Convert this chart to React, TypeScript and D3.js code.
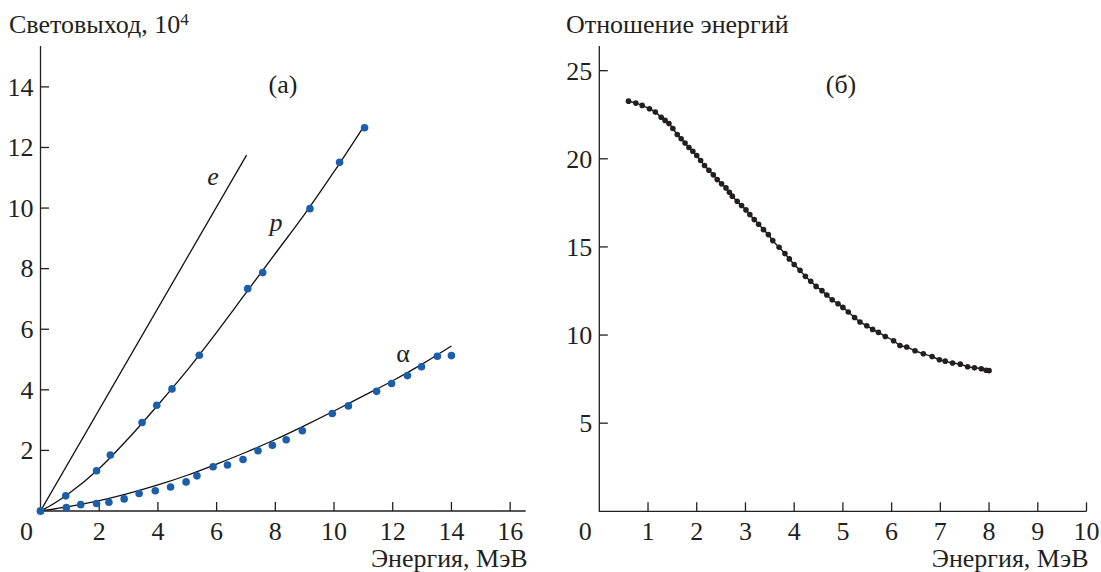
import React from "react";
import * as d3 from "d3";

// Panel (а): light yield vs particle energy
const protonPoints: [number, number][] = [
  [0, 0], [0.86, 0.5], [1.91, 1.33], [2.38, 1.85], [3.46, 2.92], [3.96, 3.49],
  [4.48, 4.03], [5.41, 5.14], [7.06, 7.34], [7.57, 7.87], [9.18, 9.98],
  [10.19, 11.51], [11.04, 12.65],
];
const alphaPoints: [number, number][] = [
  [0, 0], [0.88, 0.11], [1.37, 0.21], [1.91, 0.25], [2.33, 0.29], [2.85, 0.4],
  [3.36, 0.58], [3.91, 0.67], [4.43, 0.79], [4.96, 0.96], [5.33, 1.16],
  [5.88, 1.46], [6.37, 1.52], [6.9, 1.7], [7.41, 1.99], [7.9, 2.17],
  [8.37, 2.35], [8.92, 2.65], [9.94, 3.22], [10.49, 3.47], [11.45, 3.95],
  [11.96, 4.21], [12.5, 4.47], [12.98, 4.76], [13.52, 5.11], [14.0, 5.13],
];
const electronCurve: [number, number][] = [[0, 0], [7.02, 11.75]];
const protonCurve: [number, number][] = [
  [0, 0], [0.5, 0.27], [1, 0.6], [2, 1.4], [3, 2.4], [4, 3.5], [5, 4.65],
  [6, 5.9], [7, 7.2], [8, 8.5], [9, 9.8], [10, 11.2], [10.95, 12.6],
];
const alphaCurve: [number, number][] = [
  [0, 0], [1, 0.15], [2, 0.34], [3, 0.58], [4, 0.86], [5, 1.18], [6, 1.55],
  [7, 1.94], [8, 2.36], [9, 2.82], [10, 3.3], [11, 3.8], [12, 4.3],
  [13, 4.85], [14, 5.45],
];
const leftXTicks = [2, 4, 6, 8, 10, 12, 14, 16];
const leftYTicks = [2, 4, 6, 8, 10, 12, 14];

// Panel (б): energy ratio vs energy
const ratioPoints: [number, number][] = [
  [0.6, 23.27], [0.75, 23.16], [0.88, 23.03], [1.03, 22.84], [1.15, 22.65],
  [1.27, 22.36], [1.35, 22.18], [1.43, 22.0], [1.51, 21.72], [1.6, 21.38],
  [1.68, 21.14], [1.76, 20.89], [1.84, 20.64], [1.92, 20.43], [2.0, 20.19],
  [2.08, 19.9], [2.16, 19.62], [2.25, 19.35], [2.34, 19.09], [2.42, 18.82],
  [2.51, 18.58], [2.6, 18.35], [2.67, 18.1], [2.73, 17.88], [2.83, 17.59],
  [2.92, 17.35], [3.01, 17.1], [3.09, 16.84], [3.18, 16.55], [3.27, 16.29],
  [3.37, 15.98], [3.47, 15.7], [3.56, 15.36], [3.69, 14.98], [3.81, 14.62],
  [3.9, 14.32], [4.0, 14.0], [4.12, 13.67], [4.23, 13.33], [4.34, 13.05],
  [4.45, 12.76], [4.57, 12.52], [4.67, 12.27], [4.78, 12.0], [4.9, 11.78],
  [5.0, 11.57], [5.11, 11.31], [5.24, 11.0], [5.35, 10.74], [5.49, 10.53],
  [5.61, 10.32], [5.73, 10.15], [5.87, 9.92], [6.04, 9.68], [6.17, 9.41],
  [6.31, 9.32], [6.48, 9.11], [6.65, 8.94], [6.83, 8.78], [6.98, 8.6],
  [7.1, 8.52], [7.25, 8.41], [7.41, 8.35], [7.56, 8.2], [7.7, 8.14],
  [7.84, 8.09], [7.94, 8.0], [8.0, 7.98],
];
const rightXTicks = [1, 2, 3, 4, 5, 6, 7, 8, 9, 10];
const rightYTicks = [5, 10, 15, 20, 25];

const INK = "#231f20";
const BLUE = "#1b5fab";
const FONT = "'Liberation Serif'";
const FS = 26;

const xL = d3.scaleLinear().domain([0, 16.53]).range([40.5, 525.7]);
const yL = d3.scaleLinear().domain([0, 15.35]).range([511, 46]);
const xR = d3.scaleLinear().domain([0, 10]).range([599.3, 1086.5]);
const yR = d3.scaleLinear().domain([0, 26.4]).range([511.3, 46]);

type Scale = d3.ScaleLinear<number, number>;

function Axes({ x, y, xTicks, yTicks, xMax, yMax }: {
  x: Scale; y: Scale; xTicks: number[]; yTicks: number[]; xMax: number; yMax: number;
}) {
  const x0 = x(0);
  const y0 = y(0);
  return (
    <g stroke={INK} strokeWidth={1.3} fill="none">
      <path d={`M${x0},${y(yMax)}V${y0}H${x(xMax)}`} />
      {xTicks.map((t) => (
        <line key={"x" + t} x1={x(t)} x2={x(t)} y1={y0} y2={y0 - 9} />
      ))}
      {yTicks.map((t) => (
        <line key={"y" + t} x1={x0} x2={x0 + 8.5} y1={y(t)} y2={y(t)} />
      ))}
    </g>
  );
}

function TickLabels({ x, y, xTicks, yTicks }: {
  x: Scale; y: Scale; xTicks: number[]; yTicks: number[];
}) {
  const x0 = x(0);
  return (
    <g fill={INK} fontFamily={FONT} fontSize={FS}>
      <text x={x0 - 14} y={540} textAnchor="middle">0</text>
      {xTicks.map((t) => (
        <text key={"x" + t} x={x(t)} y={540} textAnchor="middle">{t}</text>
      ))}
      {yTicks.map((t) => (
        <text key={"y" + t} x={x0 - 7} y={y(t)} dy="0.34em" textAnchor="end">{t}</text>
      ))}
      <text x={x.range()[1] + 2} y={567} textAnchor="end">Энергия, МэВ</text>
    </g>
  );
}

export default function App() {
  const lineL = d3.line<[number, number]>().x((d) => xL(d[0])).y((d) => yL(d[1])).curve(d3.curveMonotoneX);
  const lineR = d3.line<[number, number]>().x((d) => xR(d[0])).y((d) => yR(d[1])).curve(d3.curveMonotoneX);
  return (
    <svg
      width={1101}
      height={572}
      style={{ position: "absolute", left: 0, top: 0, background: "#fff" }}
    >
      <rect width={1101} height={572} fill="#fff" />

      {/* Panel (а) */}
      <text x={9} y={33} fill={INK} fontFamily={FONT} fontSize={FS}>
        Световыход, 10<tspan fontSize={17} dy={-8}>4</tspan>
      </text>
      <text x={283} y={93} fill={INK} fontFamily={FONT} fontSize={FS} textAnchor="middle">(а)</text>
      <Axes x={xL} y={yL} xTicks={leftXTicks} yTicks={leftYTicks} xMax={16.53} yMax={15.35} />
      <g fill="none" stroke="#111" strokeWidth={1.3}>
        <path d={lineL(electronCurve) ?? ""} />
        <path d={lineL(protonCurve) ?? ""} />
        <path d={lineL(alphaCurve) ?? ""} />
      </g>
      <g fill={BLUE}>
        {protonPoints.map((d, i) => (
          <circle key={"p" + i} cx={xL(d[0])} cy={yL(d[1])} r={3.8} />
        ))}
        {alphaPoints.map((d, i) => (
          <circle key={"a" + i} cx={xL(d[0])} cy={yL(d[1])} r={3.8} />
        ))}
      </g>
      <g fill={INK} fontFamily={FONT} fontSize={FS}>
        <text x={213} y={185} textAnchor="middle" fontStyle="italic">e</text>
        <text x={276} y={231} textAnchor="middle" fontStyle="italic">p</text>
        <text x={403} y={362} textAnchor="middle">α</text>
      </g>
      <TickLabels x={xL} y={yL} xTicks={leftXTicks} yTicks={leftYTicks} />

      {/* Panel (б) */}
      <text x={566} y={33} fill={INK} fontFamily={FONT} fontSize={FS}>Отношение энергий</text>
      <text x={841} y={93} fill={INK} fontFamily={FONT} fontSize={FS} textAnchor="middle">(б)</text>
      <Axes x={xR} y={yR} xTicks={rightXTicks} yTicks={rightYTicks} xMax={10} yMax={26.4} />
      <path d={lineR(ratioPoints) ?? ""} fill="none" stroke={INK} strokeWidth={1.5} />
      <g fill={INK}>
        {ratioPoints.map((d, i) => (
          <circle key={"r" + i} cx={xR(d[0])} cy={yR(d[1])} r={2.8} />
        ))}
      </g>
      <TickLabels x={xR} y={yR} xTicks={rightXTicks} yTicks={rightYTicks} />
    </svg>
  );
}
